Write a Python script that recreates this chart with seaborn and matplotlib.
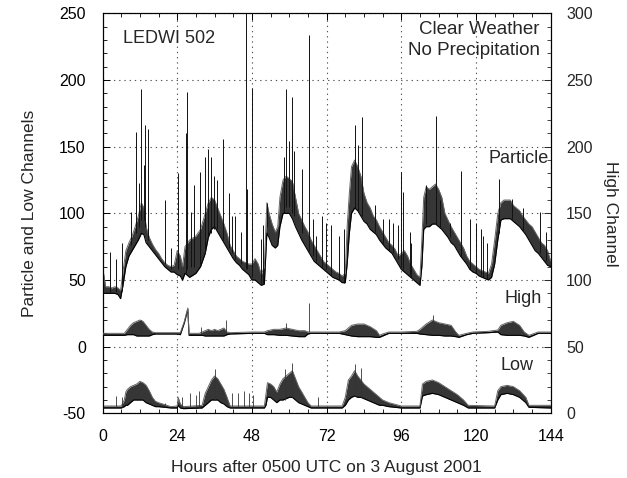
import numpy as np
import pandas as pd
import matplotlib
matplotlib.use("Agg")
import matplotlib.pyplot as plt
from matplotlib.ticker import MultipleLocator
import seaborn as sns

# ---------------- data ----------------
# Particle channel (left axis units): envelope of the noisy trace
part_t = [0, 1, 2, 3, 4, 5, 5.8, 6.5, 7.5, 8.5, 9.5, 10.5, 11.5, 12.5, 13.3, 14, 15, 16, 17, 18,
          19, 20, 21, 22, 23, 24, 25, 25.7, 26.5, 28, 30, 31.5, 33, 34, 35, 36, 37, 38, 39, 40,
          41, 42, 43, 44, 45, 46, 47, 48, 49, 50, 51, 52, 52.8, 53.5, 54.5, 55.5, 56.3, 57, 58, 59,
          60, 61, 62, 63, 64, 65, 66, 67, 68, 69, 70, 71, 72, 73, 74, 75, 76, 77, 78, 78.6,
          79.3, 80, 81, 82, 83, 84, 85, 86, 87, 88, 89, 90, 91, 92, 93, 94, 95, 96, 97, 98,
          99, 100, 101, 102, 102.6, 103.2, 104, 105, 106, 107, 108, 109, 110, 111, 112, 113, 114, 115, 116, 117,
          118, 119, 120, 121, 122, 123, 124, 125, 126, 127, 128, 129, 130, 131, 132, 133, 134, 135, 136, 137,
          138, 139, 140, 141, 142, 143, 144]
part_lo = [40, 40, 40, 40, 40, 39, 36, 45, 60, 68, 72, 76, 80, 85, 84, 78, 75, 72, 69, 66,
           63, 60, 58, 56, 56, 54, 53, 50, 55, 52, 55, 60, 70, 82, 88, 90, 86, 82, 78, 74,
           70, 66, 63, 61, 58, 56, 54, 50, 50, 48, 46, 47, 85, 82, 76, 74, 76, 90, 100, 100,
           100, 96, 90, 85, 80, 76, 72, 68, 64, 62, 60, 58, 56, 54, 52, 51, 50, 48, 48, 62,
           85, 100, 104, 102, 98, 94, 92, 88, 86, 84, 80, 77, 74, 72, 70, 66, 62, 58, 56, 54,
           52, 50, 48, 46, 60, 88, 90, 90, 92, 92, 90, 88, 85, 82, 78, 76, 72, 68, 65, 62,
           58, 56, 55, 53, 52, 51, 50, 52, 62, 80, 95, 96, 96, 96, 94, 92, 90, 87, 84, 80,
           76, 72, 70, 67, 64, 61, 60]
part_hi = [60, 45, 45, 44, 45, 44, 42, 55, 72, 78, 83, 90, 98, 108, 104, 90, 82, 77, 73, 70,
           66, 63, 61, 60, 61, 72, 68, 60, 75, 80, 83, 88, 100, 108, 112, 110, 104, 98, 92, 85,
           76, 72, 68, 66, 64, 63, 62, 62, 66, 62, 54, 60, 108, 100, 92, 86, 90, 112, 125, 128,
           126, 124, 112, 100, 95, 90, 86, 80, 76, 72, 68, 64, 62, 60, 58, 56, 55, 53, 55, 90,
           115, 135, 140, 135, 128, 115, 108, 104, 98, 95, 90, 86, 82, 78, 76, 73, 68, 70, 72, 68,
           62, 58, 54, 52, 80, 112, 120, 118, 120, 122, 118, 112, 100, 95, 90, 86, 82, 78, 74, 68,
           64, 62, 60, 58, 57, 56, 55, 62, 80, 100, 108, 110, 110, 110, 106, 104, 102, 98, 95, 92,
           90, 86, 82, 78, 76, 72, 64]

# Particle spikes: time, base, peak
pspk_t = [0.1, 2.3, 4.2, 6.3, 9.2, 10.8, 11.6, 12.4, 13.2, 13.7, 14.6, 20.1, 22.0, 24.4, 26.7, 27.2,
          28.5, 29.5, 31.2, 32.8, 33.9, 34.7, 35.7, 36.8, 38.7, 40.7, 41.7, 42.6, 44.6, 46.2, 46.5, 48.0,
          50.8, 51.6, 52.8, 58.3, 59.0, 59.9, 60.9, 61.5, 64.2, 66.3, 67.6, 68.7, 70.4, 71.7, 73.5, 76.0,
          77.5, 81.2, 82.2, 83.5, 87.4, 90.0, 92.0, 93.3, 95.0, 96.0, 96.7, 98.7, 99.2, 104.0, 107.0, 108.5,
          111.6, 115.3, 118.0, 120.1, 121.5, 122.3, 123.4, 127.4, 131.5, 135.0, 140.5, 142.6]
pspk_base = [42, 41, 41, 42, 76, 85, 90, 95, 95, 90, 80, 62, 58, 58, 55, 58,
             60, 60, 62, 70, 82, 85, 88, 88, 80, 74, 70, 66, 62, 58, 58, 52,
             48, 48, 90, 100, 105, 105, 100, 98, 85, 72, 68, 64, 60, 58, 54, 50,
             48, 104, 102, 98, 86, 77, 72, 70, 66, 60, 58, 54, 52, 92, 92, 90,
             82, 68, 58, 55, 54, 52, 51, 85, 96, 87, 70, 64]
pspk_peak = [71, 71, 66, 78, 101, 161, 123, 193, 136, 166, 163, 110, 74, 130, 160, 191,
             101, 121, 131, 142, 148, 142, 128, 125, 156, 115, 98, 98, 86, 260, 118, 194,
             81, 91, 108, 142, 193, 154, 187, 147, 133, 234, 96, 83, 98, 93, 91, 83,
             88, 166, 151, 172, 106, 96, 96, 93, 91, 131, 116, 86, 78, 121, 173, 110,
             93, 132, 96, 93, 88, 83, 78, 126, 111, 104, 101, 86]

# High channel (right axis units)
high_t = [0, 7, 8, 9, 10, 11, 12, 13, 14, 15, 16, 17, 24, 25, 26.3, 27.4, 27.8, 31, 32, 33,
          34, 35, 36, 37, 38, 39, 40, 41, 48, 52, 53, 55, 57, 59, 61, 63, 65, 66, 67, 76,
          78, 80, 82, 84, 86, 88, 89, 90, 92, 96, 101, 102, 104, 106, 108, 110, 112, 113.5, 114.5, 117,
          119, 124, 127, 128, 130, 132, 134, 135.5, 137, 140, 144]
high_lo = [58.5, 58.5, 59, 59, 59, 58, 58, 58, 58, 58, 59, 59.5, 59.5, 59, 68, 78, 58.5, 58.5, 58.5, 58,
           58, 58, 58, 58, 58, 58, 59, 59.5, 60, 60, 59, 59, 58.5, 58.5, 58, 57.5, 57.5, 59.5, 60, 60,
           59, 58, 57.5, 57.5, 57.5, 57, 57, 58, 60, 60, 60, 59.5, 59, 58.5, 58.5, 58, 58, 57.5, 57, 59,
           60, 60.5, 61, 59, 58.5, 58.5, 58.5, 58, 57, 60, 60]
high_hi = [60, 60, 63, 66, 68, 69, 70, 69, 66, 63, 61, 60.5, 60.5, 60.5, 69, 79, 60, 60, 61, 62,
           63, 62, 63, 62, 63, 64, 61, 60.5, 61, 61, 62, 63, 63, 64, 63, 62, 62, 61, 61, 61,
           62, 66, 67, 67, 65, 62, 58.5, 59.5, 61, 61, 61.5, 63, 67, 70, 68, 67, 66, 61, 58.5, 60,
           61, 61.5, 62.5, 66, 68, 69, 66, 61, 58.5, 61, 61]
hspk_t = [12.3, 31.7, 39.7, 58.8, 66.3, 106.2]
hspk_base = [60, 60, 60, 61, 61, 62]
hspk_peak = [70, 64.5, 70, 67.7, 82.7, 73.7]

# Low channel (left axis units)
low_t = [0, 6, 7, 7.5, 8, 9, 10, 11, 12, 13, 14, 15, 16, 17, 18, 20, 22, 24, 24.3, 25,
         26, 32, 33, 34, 35, 36, 37, 38, 39, 40, 41, 48, 52, 52.5, 53, 54, 55, 56, 57, 58,
         59, 60, 61, 62, 63, 64, 65, 66, 67, 77, 78, 79, 80, 81, 82, 83, 84, 85, 86, 87,
         88, 89, 90, 92, 96, 102, 102.8, 104, 106, 108, 110, 112, 114, 116, 117.5, 126, 127, 128, 130, 132,
         134, 136, 137, 144]
low_lo = [-46, -46, -45, -44, -44, -42, -40, -40, -40, -40, -42, -43, -44, -45, -45, -45.5, -46, -46, -44, -46,
          -46.5, -46, -44, -42, -40, -40, -40, -42, -43, -45, -46, -46, -46, -44, -38, -38, -40, -42, -40, -40,
          -39, -38, -38, -40, -42, -43, -44, -45, -46, -46, -44, -40, -38, -37, -38, -38, -39, -40, -41, -42,
          -43, -44, -44, -45, -46, -46, -37, -36, -35, -36, -38, -40, -42, -44, -46, -46, -40, -36, -35, -36,
          -38, -42, -45.5, -46]
low_hi = [-44.5, -44.5, -40, -34, -32, -30, -29, -28, -26, -27, -29, -33, -38, -41, -42, -43.5, -45, -44.5, -38, -43,
          -45, -44, -35, -30, -25, -22, -24, -28, -32, -38, -44.5, -44.5, -44.5, -36, -27, -28, -30, -34, -28, -24,
          -22, -20, -18, -24, -30, -34, -38, -42, -44.5, -44.5, -38, -25, -22, -18, -22, -25, -28, -30, -32, -34,
          -36, -38, -40, -42, -44.5, -44.5, -28, -26, -25, -27, -30, -33, -36, -40, -44, -44.5, -33, -30, -29, -30,
          -33, -38, -44, -44]
lspk_t = [4.2, 6.2, 20.0, 25.5, 28.0, 30.0, 31.0, 36.0, 41.5, 43.5, 45.3, 47.0, 48.2, 58.5, 61.0, 69.2, 81.0, 83.0]
lspk_base = [-45, -45, -45, -45, -45, -45, -45, -40, -45, -45, -45, -45, -45, -40, -38, -45, -37, -38]
lspk_peak = [-37, -38, -42, -38, -35, -36, -33, -17, -35, -35, -33, -35, -36, -17, -12, -38, -13, -16]

# ---------------- plotting ----------------
sns.set_style("ticks")
plt.rcParams["font.family"] = ["Liberation Sans", "DejaVu Sans"]
plt.rcParams["axes.unicode_minus"] = False

fig = plt.figure(figsize=(6.27, 4.78), dpi=100)
ax = fig.add_axes([0.1635, 0.1353, 0.7148, 0.8367])
ax2 = ax.twinx()

part = pd.DataFrame({"t": part_t, "lo": part_lo, "hi": part_hi})
high = pd.DataFrame({"t": high_t, "lo": high_lo, "hi": high_hi})
low = pd.DataFrame({"t": low_t, "lo": low_lo, "hi": low_hi})

band_col = "#363636"
for df, a in [(part, ax), (low, ax), (high, ax2)]:
    a.fill_between(df["t"], df["lo"], df["hi"], color=band_col, lw=0, zorder=3)
    sns.lineplot(data=df, x="t", y="lo", ax=a, color="black", lw=0.8, zorder=4)
    sns.lineplot(data=df, x="t", y="hi", ax=a, color="#666666", lw=0.7, zorder=4)

ax.vlines(pspk_t, pspk_base, pspk_peak, color="#111111", lw=0.7, zorder=4)
ax.vlines(lspk_t, lspk_base, lspk_peak, color="#333333", lw=0.6, zorder=4)
ax2.vlines(hspk_t, hspk_base, hspk_peak, color="#333333", lw=0.6, zorder=4)

ax.set_xlim(0, 144)
ax.set_ylim(-50, 250)
ax2.set_ylim(0, 300)

ax.xaxis.set_major_locator(MultipleLocator(24))
ax.xaxis.set_minor_locator(MultipleLocator(6))
ax.yaxis.set_major_locator(MultipleLocator(50))
ax.yaxis.set_minor_locator(MultipleLocator(10))
ax2.yaxis.set_major_locator(MultipleLocator(50))
ax2.yaxis.set_minor_locator(MultipleLocator(10))

for a in (ax, ax2):
    for s in a.spines.values():
        s.set_visible(True)
        s.set_color("black")
        s.set_linewidth(0.8)

ax.tick_params(axis="both", which="both", direction="in", top=True, labelsize=11.5, colors="black")
ax.tick_params(which="major", length=5, width=0.7)
ax.tick_params(which="minor", length=3, width=0.6)
ax.tick_params(axis="y", right=False)
ax2.tick_params(axis="y", which="both", direction="in", labelsize=11.5)
ax2.tick_params(which="major", length=5, width=0.7)
ax2.tick_params(which="minor", length=3, width=0.6)
ax.tick_params(axis="x", pad=11)
ax.tick_params(axis="y", pad=12)
ax2.tick_params(axis="y", pad=11)

# dotted grid at major positions
ax.grid(True, which="major", color="#555555", linestyle=(0, (1.2, 3.5)), lw=0.8, zorder=1)

ax.set_xlabel("Hours after 0500 UTC on 3 August 2001", fontsize=12.5, labelpad=12)
ax.set_ylabel("Particle and Low Channels", fontsize=12.5, labelpad=16)
ax2.set_ylabel("High Channel", fontsize=12.5, rotation=270, labelpad=18)

ax.text(6.5, 231, "LEDWI 502", fontsize=13, va="center", ha="left")
ax.text(140.5, 238, "Clear Weather", fontsize=13.5, va="center", ha="right")
ax.text(140.5, 222, "No Precipitation", fontsize=13.5, va="center", ha="right")
ax.text(143.5, 141, "Particle", fontsize=13, va="center", ha="right")
ax.text(141, 36, "High", fontsize=13, va="center", ha="right")
ax.text(138.5, -14, "Low", fontsize=13, va="center", ha="right")

fig.savefig("out.png", dpi=100)
